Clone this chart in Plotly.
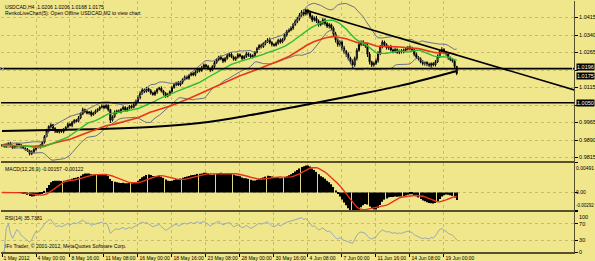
import plotly.graph_objects as go
import pandas as pd

# ---------------- data ----------------
close = [
 0.9868,0.9862,0.9870,0.9875,0.9866,0.9858,0.9864,0.9872,0.9869,0.9860,
 0.9855,0.9850,0.9844,0.9832,0.9838,0.9850,0.9862,0.9858,0.9866,0.9880,
 0.9905,0.9930,0.9948,0.9955,0.9940,0.9928,0.9924,0.9932,0.9926,0.9935,
 0.9945,0.9958,0.9952,0.9966,0.9975,0.9970,0.9985,1.0002,1.0020,1.0012,
 1.0005,1.0010,0.9998,1.0006,1.0015,1.0022,1.0030,1.0035,1.0028,1.0038,
 1.0020,0.9975,0.9990,1.0008,1.0015,1.0010,1.0022,1.0030,1.0018,1.0026,
 1.0035,1.0030,1.0042,1.0055,1.0072,1.0090,1.0105,1.0098,1.0110,1.0102,
 1.0092,1.0085,1.0096,1.0108,1.0112,1.0100,1.0090,1.0078,1.0085,1.0098,
 1.0115,1.0128,1.0135,1.0126,1.0138,1.0150,1.0160,1.0155,1.0168,1.0176,
 1.0170,1.0182,1.0195,1.0188,1.0200,1.0212,1.0205,1.0196,1.0190,1.0205,
 1.0222,1.0235,1.0245,1.0238,1.0228,1.0240,1.0252,1.0258,1.0246,1.0236,
 1.0244,1.0256,1.0250,1.0240,1.0248,1.0260,1.0254,1.0246,1.0252,1.0266,
 1.0282,1.0295,1.0290,1.0304,1.0312,1.0320,1.0308,1.0300,1.0296,1.0305,
 1.0318,1.0310,1.0322,1.0340,1.0355,1.0362,1.0370,1.0385,1.0398,1.0410,
 1.0425,1.0438,1.0430,1.0445,1.0436,1.0420,1.0405,1.0412,1.0400,1.0385,
 1.0392,1.0405,1.0390,1.0378,1.0384,1.0370,1.0345,1.0320,1.0300,1.0310,
 1.0285,1.0270,1.0258,1.0240,1.0225,1.0212,1.0240,1.0275,1.0300,1.0310,
 1.0302,1.0295,1.0258,1.0225,1.0212,1.0218,1.0230,1.0262,1.0290,1.0310,
 1.0298,1.0285,1.0290,1.0276,1.0270,1.0278,1.0266,1.0272,1.0268,1.0275,
 1.0280,1.0288,1.0282,1.0276,1.0258,1.0245,1.0238,1.0225,1.0218,1.0222,
 1.0215,1.0210,1.0218,1.0212,1.0225,1.0248,1.0270,1.0278,1.0265,1.0260,
 1.0242,1.0235,1.0228,1.0206,1.0175]
first_open = 0.9866

hi_wick_pips = [
 4,6,3,5,7,4,3,6,5,4, 5,3,6,4,8,5,4,6,7,5, 6,8,5,7,4,5,6,3,5,6,
 4,7,5,6,4,5,8,6,9,5, 6,4,7,5,6,4,5,8,6,7, 5,4,6,9,5,6,4,7,5,6,
 5,7,6,8,10,9,7,6,8,5, 6,5,7,4,6,8,5,6,7,5, 6,7,5,8,6,5,7,6,4,6,
 5,7,6,5,8,6,4,7,5,6, 7,5,6,8,5,6,7,5,9,6, 5,7,6,4,6,8,5,7,6,5,
 7,6,8,5,6,7,9,6,5,7, 6,8,5,9,7,6,8,7,9,8, 10,9,12,8,7,9,6,8,10,7,
 8,9,7,6,8,5,7,9,6,8, 7,9,6,8,7,10,8,9,12,7, 8,6,7,9,5,8,10,9,7,8,
 6,7,5,8,6,7,5,6,8,7, 6,5,7,8,6,7,5,6,8,5, 6,7,5,6,8,9,7,10,6,7,
 5,6,7,4,0]
lo_wick_pips = [
 5,4,6,3,5,7,4,5,3,6, 4,6,5,8,7,5,6,4,5,6, 5,4,6,7,5,8,4,6,5,7,
 6,5,4,7,6,5,4,6,5,7, 5,6,8,4,5,6,7,5,6,4, 8,12,6,5,7,4,6,5,7,6,
 5,6,4,7,5,8,6,7,5,6, 7,5,6,8,5,6,9,7,5,6, 6,5,7,4,6,8,5,6,7,5,
 6,7,5,8,6,5,7,6,9,5, 6,5,7,6,8,5,6,7,5,6, 7,5,6,8,5,6,7,5,6,7,
 5,6,7,5,8,6,7,9,6,5, 6,7,5,6,7,5,6,8,6,7, 8,7,9,6,8,10,9,7,8,9,
 7,8,9,8,10,9,11,12,10,9, 11,10,12,9,10,13,8,9,7,8, 9,10,12,11,9,8,7,9,8,7,
 8,7,9,6,8,7,6,8,7,6, 7,6,8,7,9,8,7,6,8,9, 8,7,9,6,7,5,6,8,7,9,
 8,7,6,9,7]

time_tick_bars = [0, 16, 32, 48, 64, 80, 96, 112, 128, 144, 160, 176, 192, 208]
time_tick_labels = ["1 May 2012", "4 May 00:00", "8 May 16:00", "11 May 08:00",
                    "16 May 00:00", "18 May 16:00", "23 May 08:00", "28 May 00:00",
                    "30 May 16:00", "4 Jun 08:00", "7 Jun 00:00", "11 Jun 16:00",
                    "14 Jun 08:00", "19 Jun 00:00"]

price_ticks = [1.0415, 1.0340, 1.0265, 1.0190, 1.0115, 1.0040, 0.9965, 0.9890, 0.9815]
price_tick_text = ["1.0415", "1.0340", "1.0265", "", "1.0115", "", "0.9965", "0.9890", "0.9815"]

# long (200) moving average
ma200_bars = [0, 23, 46, 70, 93, 117, 140, 164, 187, 214]
ma200_vals = [0.9929, 0.9933, 0.9937, 0.9946, 0.9963, 0.9997, 1.0036, 1.0079, 1.0122, 1.0186]

hlines = [1.0196, 1.0050]
price_boxes = [1.0196, 1.0175, 1.0050]
box_shift = [2, -2, 0]
trend_bars = [142.6, 269.6]
trend_vals = [1.0447, 1.0104]

macd_max, macd_min = 0.00491, -0.00292
rsi_ticks = [100, 70, 30, 0]

# ---------------- derived ----------------
bars = list(range(len(close)))
opn = [first_open] + close[:-1]
high = [max(o, c) + w / 10000 for o, c, w in zip(opn, close, hi_wick_pips)]
low = [min(o, c) - w / 10000 for o, c, w in zip(opn, close, lo_wick_pips)]

s = pd.Series(close)
sma20 = s.rolling(20, min_periods=1).mean()
sd20 = s.rolling(20, min_periods=2).std(ddof=0).fillna(0)
bb_up = sma20 + 2 * sd20
bb_lo = sma20 - 2 * sd20
ema50 = s.ewm(span=50, adjust=False).mean()
macd = s.ewm(span=12, adjust=False).mean() - s.ewm(span=26, adjust=False).mean()
signal = macd.rolling(9, min_periods=1).mean()
d = s.diff().fillna(0)
g = d.clip(lower=0).ewm(alpha=1 / 14, adjust=False).mean()
l = (-d.clip(upper=0)).ewm(alpha=1 / 14, adjust=False).mean()
rsi = 100 - 100 / (1 + g / l.replace(0, 1e-9))

# ---------------- figure ----------------
BG = "#F0E68C"
SEP = "#57502A"
GRID = "rgba(120,110,60,0.35)"
FONT = "Liberation Sans"
XR = [-0.47, 269.2]

fig = go.Figure()

fig.add_trace(go.Scatter(x=bars, y=bb_up, mode="lines", line=dict(color="#6d6f86", width=1), hoverinfo="skip"))
fig.add_trace(go.Scatter(x=bars, y=bb_lo, mode="lines", line=dict(color="#6d6f86", width=1), hoverinfo="skip"))
fig.add_trace(go.Scatter(x=ma200_bars, y=ma200_vals, mode="lines", line=dict(color="#000000", width=2, shape="spline")))
fig.add_trace(go.Scatter(x=bars, y=ema50, mode="lines", line=dict(color="#E8361A", width=1.6)))
fig.add_trace(go.Scatter(x=bars, y=sma20, mode="lines", line=dict(color="#2DBE2D", width=1.4)))

for i, lv in enumerate(hlines):
    fig.add_trace(go.Scatter(x=XR, y=[lv, lv], mode="lines+markers" if i == 0 else "lines",
                             marker=dict(symbol=["triangle-right", "square"], size=[5, 3], color="#000000"),
                             line=dict(color="#000000", width=1.6), cliponaxis=False))
fig.add_trace(go.Scatter(x=trend_bars, y=trend_vals, mode="lines", line=dict(color="#000000", width=1.6)))

fig.add_trace(go.Candlestick(
    x=bars, open=opn, high=high, low=low, close=close,
    increasing=dict(line=dict(color="#000000", width=1), fillcolor="#FFFFFF"),
    decreasing=dict(line=dict(color="#000000", width=1), fillcolor="#000000"),
    whiskerwidth=0, xaxis="x", yaxis="y"))

fig.add_trace(go.Bar(x=bars, y=macd, marker=dict(color="#000000", line=dict(width=0)),
                     width=0.55, xaxis="x2", yaxis="y2"))
fig.add_trace(go.Scatter(x=bars, y=signal, mode="lines", line=dict(color="#E8361A", width=1.4),
                         xaxis="x2", yaxis="y2"))
fig.add_trace(go.Scatter(x=bars, y=rsi, mode="lines", line=dict(color="#9AAAB4", width=1),
                         xaxis="x3", yaxis="y3"))

axfont = dict(family=FONT, size=5.5, color="#000000")
xfont = dict(family=FONT, size=5.0, color="#000000")
xcommon = dict(range=XR, showgrid=True, gridcolor=GRID, griddash="dot", gridwidth=1,
               tickvals=time_tick_bars, zeroline=False, showline=True, linecolor=SEP,
               linewidth=2, fixedrange=True, rangeslider=dict(visible=False), automargin=False)
ycommon = dict(side="right", showgrid=True, gridcolor=GRID, griddash="dot", gridwidth=1,
               zeroline=False, showline=True, linecolor=SEP, linewidth=1, ticks="outside",
               ticklen=3, tickcolor="#000000", tickfont=axfont, fixedrange=True, automargin=False)

fig.update_layout(
    width=595, height=261,
    margin=dict(l=1, r=21, t=1, b=9),
    paper_bgcolor=BG, plot_bgcolor=BG,
    showlegend=False,
    xaxis=dict(**xcommon, anchor="y", showticklabels=False),
    xaxis2=dict(**xcommon, anchor="y2", matches="x", showticklabels=False),
    xaxis3=dict(**xcommon, anchor="y3", matches="x", ticktext=time_tick_labels,
                showticklabels=True, ticks="outside", ticklen=3, tickcolor="#000000",
                tickangle=0, ticklabelposition="outside right", tickfont=xfont),
    yaxis=dict(**ycommon, domain=[0.3625, 1.0], range=[0.9800, 1.0486],
               tickvals=price_ticks, ticktext=price_tick_text),
    yaxis2=dict(**ycommon, domain=[0.1673, 0.3546], range=[macd_min, macd_max],
                tickvals=[macd_max, 0, macd_min], showticklabels=False),
    yaxis3=dict(**ycommon, domain=[0.0, 0.1594], range=[0, 100], tickvals=rsi_ticks,
                ticktext=["", "70", "30", "0"]),
)

ann = []
tfont = dict(family=FONT, size=5.1, color="#000000")
ann.append(dict(text="USDCAD,H4  1.0206 1.0206 1.0168 1.0175", xref="paper", yref="paper",
                x=0.004, y=0.998, xanchor="left", yanchor="top", showarrow=False, font=tfont))
ann.append(dict(text="RenkoLiveChart(5): Open Offline USDCAD,M2 to view chart", xref="paper", yref="paper",
                x=0.004, y=0.972, xanchor="left", yanchor="top", showarrow=False, font=tfont))
ann.append(dict(text="MACD(12,26,9) -0.00157 -0.00122", xref="paper", yref="paper",
                x=0.004, y=0.350, xanchor="left", yanchor="top", showarrow=False, font=tfont))
ann.append(dict(text="RSI(14) 35.7381", xref="paper", yref="paper",
                x=0.004, y=0.155, xanchor="left", yanchor="top", showarrow=False, font=tfont))
ann.append(dict(text="IFx Trader, \u00a9 2001-2012, MetaQuotes Software Corp.", xref="paper", yref="paper",
                x=0.004, y=0.005, xanchor="left", yanchor="bottom", showarrow=False, font=tfont))
# sub-window scale labels
for val, txt, anc, fs in [(macd_max, "0.00491", "top", 5.0), (0, "0.00", "middle", 5.0),
                          (macd_min, "-0.00292", "bottom", 4.5)]:
    ann.append(dict(text=txt, xref="paper", yref="y2", x=1.0, y=val, xanchor="left", yanchor=anc,
                    xshift=0, showarrow=False, font=dict(family=FONT, size=fs, color="#000000")))
ann.append(dict(text="100", xref="paper", yref="y3", x=1.0, y=100, xanchor="left", yanchor="top",
                xshift=3, showarrow=False, font=axfont))
for lv, sh in zip(price_boxes, box_shift):
    ann.append(dict(text="%.4f" % lv, xref="paper", yref="y", x=1.0, y=lv, xanchor="left",
                    yanchor="middle", showarrow=False, bgcolor="#000000", borderpad=0,
                    xshift=2, yshift=sh, font=dict(family=FONT, size=5.5, color="#FFFFFF")))
fig.update_layout(annotations=ann)

fig.write_html("out.html")
